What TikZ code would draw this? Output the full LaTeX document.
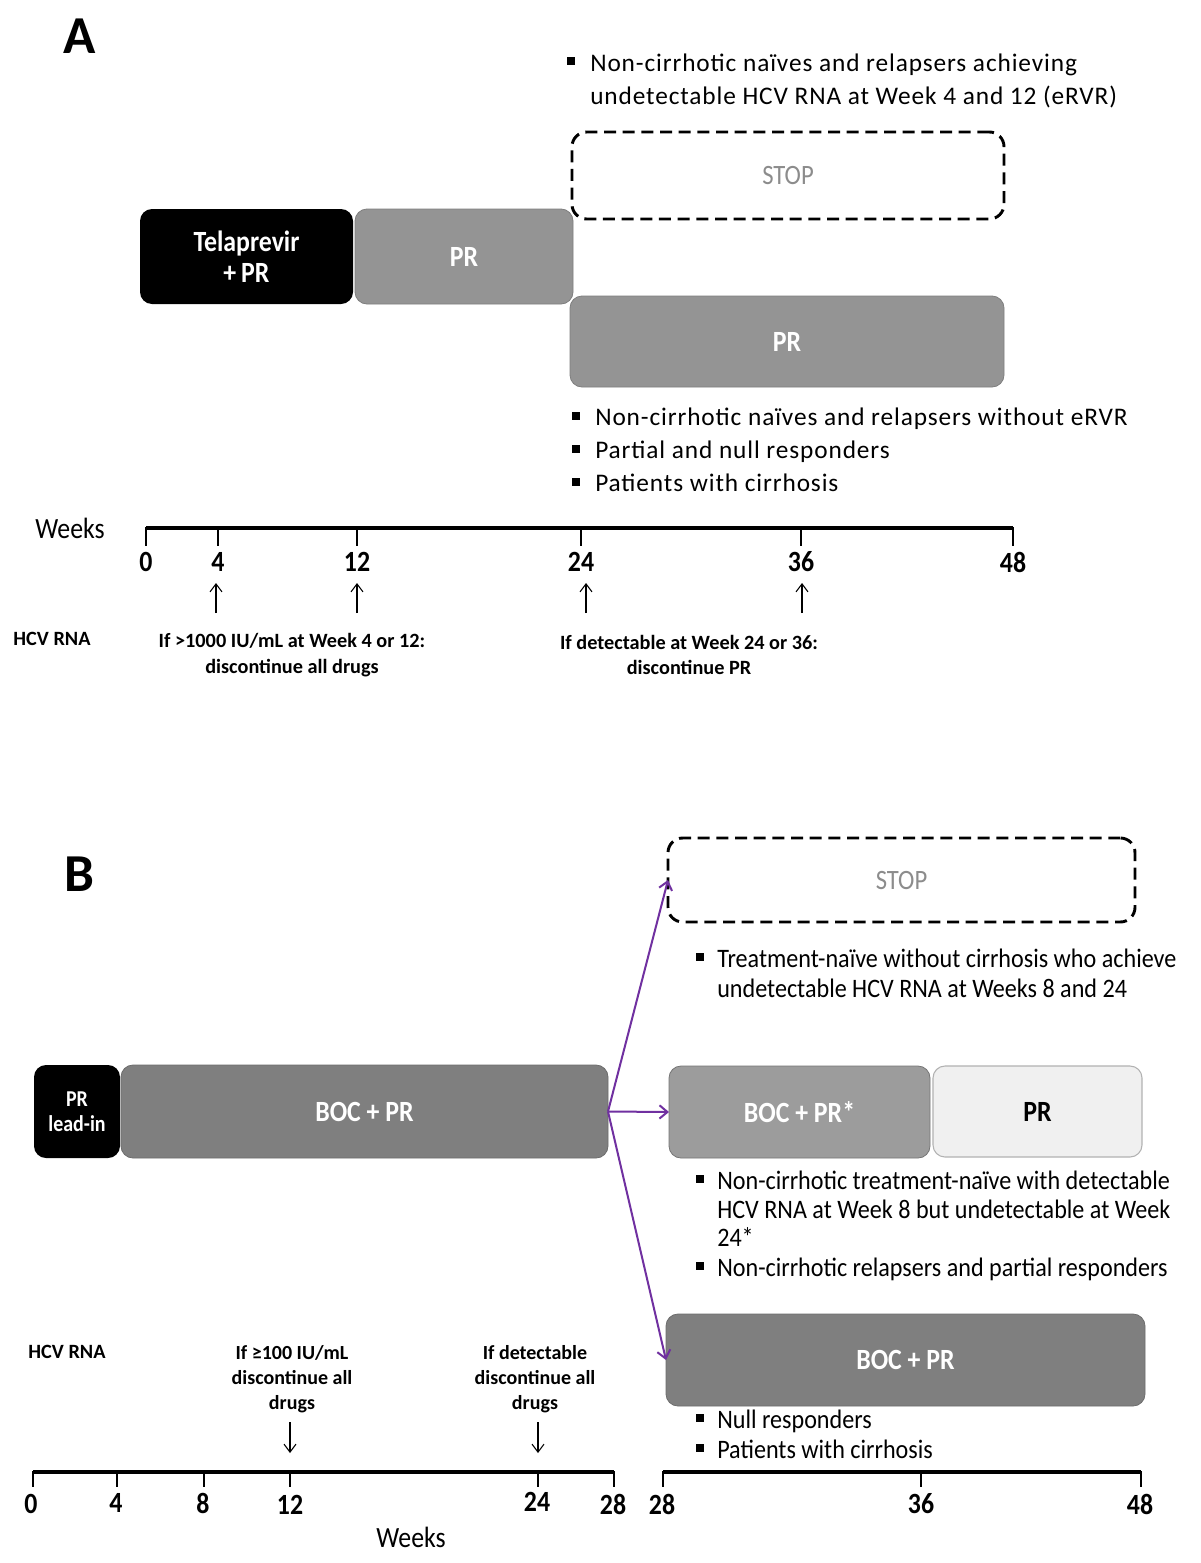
\documentclass[tikz,border=0pt]{standalone}
\usepackage{fontspec}
\setmainfont{Carlito}
\newfontfamily\cond[FakeStretch=0.88]{Carlito}
\newfontfamily\condB[FakeStretch=0.905]{Carlito}
\newfontfamily\wide[LetterSpace=3.5]{Carlito}
\usetikzlibrary{arrows.meta}
\definecolor{midgray}{HTML}{949494}
\definecolor{darkgrayB}{HTML}{7F7F7F}
\definecolor{lightgrayB}{HTML}{9C9C9C}
\definecolor{palegray}{HTML}{F0F0F0}
\definecolor{stopgray}{HTML}{8C8C8C}
\definecolor{purp}{HTML}{7030A0}
\begin{document}
\begin{tikzpicture}[x=0.75pt,y=-0.75pt,
  bar/.style={rectangle, rounded corners=9pt, inner sep=0pt, outer sep=0pt, align=center, text=white,
    font=\cond\bfseries\fontsize{22}{25}\selectfont},
  stopbox/.style={rectangle, rounded corners=11pt, draw=black, line width=2.2pt, dash pattern=on 9pt off 5pt,
    inner sep=0pt, outer sep=0pt, text=stopgray, font=\cond\fontsize{21}{24}\selectfont},
  sqb/.style={fill=black, minimum size=5.5pt, inner sep=0pt},
  bulA/.style={anchor=base west, inner sep=0pt, font=\wide\fontsize{19}{22}\selectfont},
  bulB/.style={anchor=base west, inner sep=0pt, font=\condB\fontsize{20}{23}\selectfont},
  axnum/.style={inner sep=0pt, font=\cond\bfseries\fontsize{22}{24}\selectfont},
  small/.style={inner sep=0pt, align=center, font=\bfseries\fontsize{15.2}{19}\selectfont},
  axisline/.style={line width=3pt},
  tick/.style={line width=2.2pt},
  hcv/.style={line width=0.8pt, -{Straight Barb[length=6pt,width=9pt]}},
  parr/.style={purp, line width=1.5pt, -{Straight Barb[length=6pt,width=10pt]}}
]
\useasboundingbox (0,0) rectangle (1200,1563);
\fill[white] (0,0) rectangle (1200,1563);

% ================= Panel A =================
\node[inner sep=0pt, font=\bfseries\fontsize{40}{44}\selectfont] (labA) at (80,36) {A};

\node[sqb] (sA1) at (571,61) {};
\node[bulA] (tA1) at (590,71) {Non-cirrhotic naïves and relapsers achieving};
\node[bulA] (tA2) at (590,104) {undetectable HCV RNA at Week 4 and 12 (eRVR)};

\node[stopbox, minimum width=324pt, minimum height=65.25pt] (stopA) at (788,175.5) {STOP};

\node[bar, fill=black, minimum width=159.75pt, minimum height=71.25pt] (tela) at (246.5,256.5) {Telaprevir\\[-2pt]+\,PR};
\node[bar, fill=midgray, draw=midgray!85!black, line width=0.6pt, minimum width=163.5pt, minimum height=71.25pt] (prA1) at (464,256.5) {PR};
\node[bar, fill=midgray, draw=midgray!85!black, line width=0.6pt, minimum width=325.5pt, minimum height=68.25pt] (prA2) at (787,341.5) {PR};

\node[sqb] (sA2) at (576,416) {};
\node[bulA] (tA3) at (595,425) {Non-cirrhotic naïves and relapsers without eRVR};
\node[sqb] (sA3) at (576,449) {};
\node[bulA] (tA4) at (595,458) {Partial and null responders};
\node[sqb] (sA4) at (576,482) {};
\node[bulA] (tA5) at (595,491) {Patients with cirrhosis};

% axis A
\node[inner sep=0pt, font=\cond\fontsize{22}{24}\selectfont] (wkA) at (70,528) {Weeks};
\draw[axisline] (146,528) -- (1013,528);
\foreach \x/\n in {146/0,218/4,357/12,581/24,801/36,1013/48}{
  \draw[tick] (\x,527) -- (\x,546);
  \node[axnum] (na\n) at (\x,562) {\n};
}
\coordinate (ua4s) at (216,613); \coordinate (ua4e) at (216,583);
\coordinate (ua12s) at (357,613); \coordinate (ua12e) at (357,583);
\coordinate (ua24s) at (586,613); \coordinate (ua24e) at (586,583);
\coordinate (ua36s) at (802,613); \coordinate (ua36e) at (802,583);
\draw[hcv] (ua4s) -- (ua4e);
\draw[hcv] (ua12s) -- (ua12e);
\draw[hcv] (ua24s) -- (ua24e);
\draw[hcv] (ua36s) -- (ua36e);

\node[small] (hcvA) at (52,639) {HCV RNA};
\node[small] (condA1) at (292,655) {If >1000 IU/mL at Week 4 or 12:\\discontinue all drugs};
\node[small] (condA2) at (689,655) {If detectable at Week 24 or 36:\\discontinue PR};

% ================= Panel B =================
\node[inner sep=0pt, font=\bfseries\fontsize{40}{44}\selectfont] (labB) at (79,874) {B};

\node[stopbox, minimum width=350.25pt, minimum height=63pt] (stopB) at (901.5,880) {STOP};

\node[sqb] (sB1) at (700,957) {};
\node[bulB] (tB1) at (717,967) {Treatment-naïve without cirrhosis who achieve};
\node[bulB] (tB2) at (717,997) {undetectable HCV RNA at Weeks 8 and 24};

\node[bar, fill=black, minimum width=64.5pt, minimum height=69.75pt, font=\cond\bfseries\fontsize{17}{19}\selectfont] (lead) at (77,1111.5) {PR\\lead-in};
\node[bar, fill=darkgrayB, draw=darkgrayB!85!black, line width=0.6pt, minimum width=365.25pt, minimum height=69.75pt] (bocB) at (364.5,1111.5) {BOC + PR};

\node[bar, fill=lightgrayB, draw=lightgrayB!75!black, line width=0.6pt, minimum width=195.75pt, minimum height=69pt] (boc2) at (799.5,1112) {BOC + PR*};
\node[bar, fill=palegray, draw=black!30, line width=0.8pt, text=black, minimum width=156.75pt, minimum height=68.25pt] (prB) at (1037.5,1111.5) {PR};

\node[sqb] (sB2) at (700,1179) {};
\node[bulB] (tB3) at (717,1189) {Non-cirrhotic treatment-naïve with detectable};
\node[bulB] (tB4) at (717,1218) {HCV RNA at Week 8 but undetectable at Week};
\node[bulB] (tB5) at (717,1246) {24*};
\node[sqb] (sB3) at (700,1266) {};
\node[bulB] (tB6) at (717,1276) {Non-cirrhotic relapsers and partial responders};

\node[bar, fill=darkgrayB, draw=darkgrayB!85!black, line width=0.6pt, minimum width=359.25pt, minimum height=69pt] (boc3) at (905.5,1360) {BOC + PR};

\node[sqb] (sB4) at (700,1418) {};
\node[bulB] (tB7) at (717,1428) {Null responders};
\node[sqb] (sB5) at (700,1448) {};
\node[bulB] (tB8) at (717,1458) {Patients with cirrhosis};

% purple arrows
\draw[parr] (bocB.east) -- (stopB.west);
\draw[parr] (bocB.east) -- (boc2.west);
\draw[parr] (bocB.east) -- (boc3.west);

% HCV RNA B
\node[small] (hcvB) at (67,1352) {HCV RNA};
\node[small, font=\bfseries\fontsize{15}{18.5}\selectfont] (condB1) at (292,1379) {If ≥100 IU/mL\\discontinue all\\drugs};
\node[small, font=\bfseries\fontsize{15}{18.5}\selectfont] (condB2) at (535,1379) {If detectable\\discontinue all\\drugs};
\coordinate (db12s) at (290,1422); \coordinate (db12e) at (290,1453);
\coordinate (db24s) at (538,1422); \coordinate (db24e) at (538,1453);
\draw[hcv] (db12s) -- (db12e);
\draw[hcv] (db24s) -- (db24e);

% axes B
\draw[axisline] (33,1472) -- (614,1472);
\foreach \x/\n in {33/0,117/4,204/8,290/12,538/24,614/28}{
  \draw[tick] (\x,1471) -- (\x,1487);
}
\node[axnum] (nb0) at (31,1504) {0};
\node[axnum] (nb4) at (116,1503) {4};
\node[axnum] (nb8) at (203,1503) {8};
\node[axnum] (nb12) at (290,1505) {12};
\node[axnum] (nb24) at (537,1502) {24};
\node[axnum] (nb28) at (613,1504) {28};

\draw[axisline] (663,1472) -- (1141,1472);
\foreach \x in {663,921,1141}{
  \draw[tick] (\x,1471) -- (\x,1487);
}
\node[axnum] (nc28) at (662,1504) {28};
\node[axnum] (nc36) at (921,1504) {36};
\node[axnum] (nc48) at (1140,1504) {48};
\node[inner sep=0pt, font=\cond\fontsize{22}{24}\selectfont] (wkB) at (411,1537) {Weeks};
\end{tikzpicture}
\end{document}
